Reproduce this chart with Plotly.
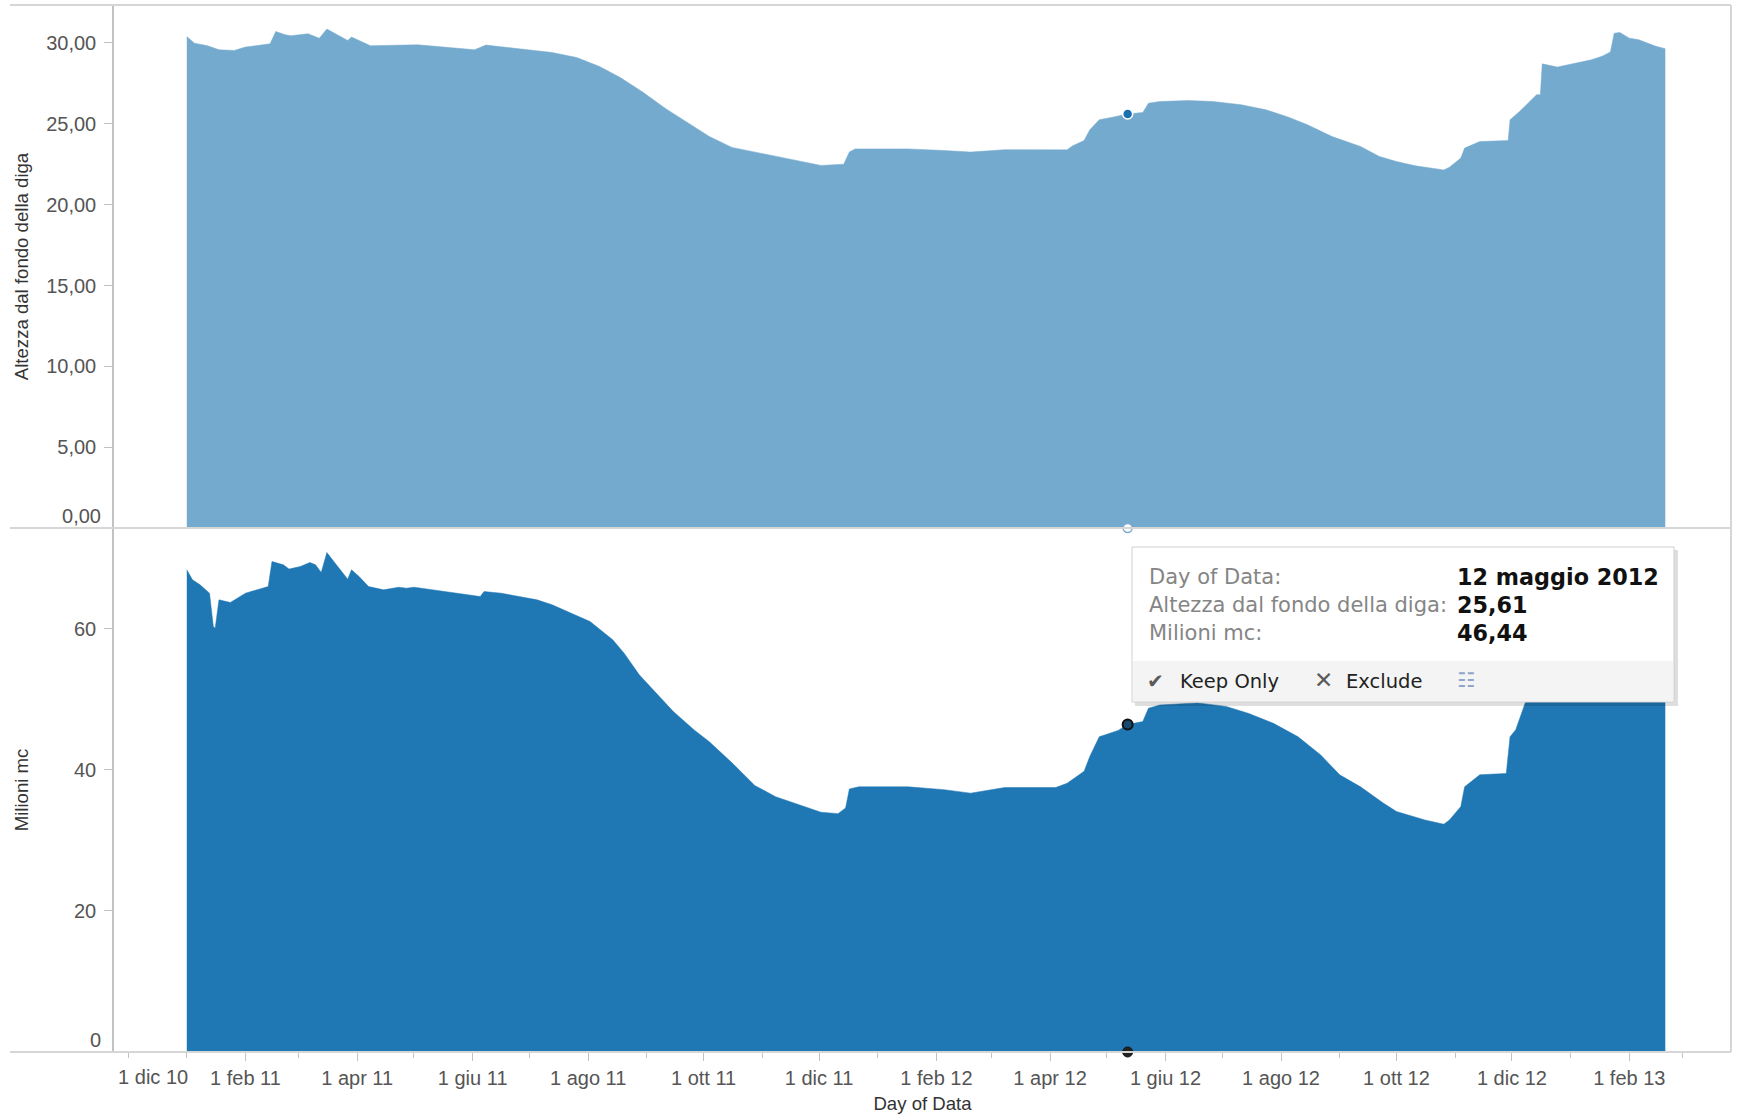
import plotly.graph_objects as go

# ---------------- data ----------------
top_dates = [
    "2011-01-01", "2011-01-05", "2011-01-12", "2011-01-18", "2011-01-26", "2011-02-01",
    "2011-02-14", "2011-02-17", "2011-02-22", "2011-02-25", "2011-03-06", "2011-03-12",
    "2011-03-16", "2011-03-27", "2011-03-29", "2011-04-08", "2011-05-03", "2011-05-21",
    "2011-06-02", "2011-06-08", "2011-06-29", "2011-07-13", "2011-07-26", "2011-08-07",
    "2011-08-18", "2011-08-30", "2011-09-11", "2011-09-23", "2011-10-04", "2011-10-16",
    "2011-10-28", "2011-11-08", "2011-11-20", "2011-12-02", "2011-12-14", "2011-12-17",
    "2011-12-20", "2012-01-17", "2012-02-05", "2012-02-19", "2012-03-08", "2012-04-10",
    "2012-04-13", "2012-04-19", "2012-04-22", "2012-04-27", "2012-05-04", "2012-05-12",
    "2012-05-20", "2012-05-23", "2012-05-29", "2012-06-13", "2012-06-26", "2012-07-11",
    "2012-07-24", "2012-08-05", "2012-08-15", "2012-08-28", "2012-09-12", "2012-09-22",
    "2012-10-01", "2012-10-11", "2012-10-26", "2012-10-29", "2012-11-04", "2012-11-06",
    "2012-11-14", "2012-11-29", "2012-11-30", "2012-12-05", "2012-12-14", "2012-12-16",
    "2012-12-17", "2012-12-25", "2013-01-12", "2013-01-18", "2013-01-22", "2013-01-24",
    "2013-01-27", "2013-02-01", "2013-02-06", "2013-02-11", "2013-02-15", "2013-02-20",
]
top_vals = [
    30.40, 29.99, 29.83, 29.58, 29.54, 29.75,
    29.95, 30.71, 30.51, 30.45, 30.57, 30.30,
    30.86, 30.16, 30.37, 29.83, 29.89, 29.68,
    29.58, 29.87, 29.62, 29.41, 29.10, 28.55,
    27.86, 26.95, 25.94, 25.04, 24.22, 23.54,
    23.25, 23.00, 22.71, 22.43, 22.50, 23.26,
    23.45, 23.45, 23.35, 23.25, 23.40, 23.39,
    23.64, 23.97, 24.63, 25.25, 25.41, 25.61,
    25.70, 26.28, 26.38, 26.44, 26.38, 26.18,
    25.87, 25.41, 24.94, 24.21, 23.60, 22.98,
    22.67, 22.40, 22.15, 22.32, 22.88, 23.50,
    23.90, 23.97, 25.25, 25.76, 26.80, 26.80,
    28.71, 28.51, 28.96, 29.20, 29.45, 30.60,
    30.65, 30.30, 30.20, 30.00, 29.80, 29.65,
]

bot_dates = [
    "2011-01-01", "2011-01-04", "2011-01-08", "2011-01-13", "2011-01-15", "2011-01-16",
    "2011-01-18", "2011-01-24", "2011-02-01", "2011-02-13", "2011-02-15", "2011-02-21",
    "2011-02-24", "2011-03-02", "2011-03-07", "2011-03-10", "2011-03-13", "2011-03-16",
    "2011-03-21", "2011-03-27", "2011-03-29", "2011-04-02", "2011-04-07", "2011-04-15",
    "2011-04-23", "2011-04-27", "2011-05-01", "2011-05-13", "2011-05-29", "2011-06-05",
    "2011-06-07", "2011-06-16", "2011-07-05", "2011-07-13", "2011-07-21", "2011-08-02",
    "2011-08-14", "2011-08-20", "2011-08-28", "2011-09-07", "2011-09-15", "2011-09-26",
    "2011-10-04", "2011-10-16", "2011-10-28", "2011-11-08", "2011-11-20", "2011-12-02",
    "2011-12-11", "2011-12-15", "2011-12-17", "2011-12-22", "2012-01-17", "2012-02-05",
    "2012-02-19", "2012-03-08", "2012-04-04", "2012-04-10", "2012-04-19", "2012-04-22",
    "2012-04-27", "2012-05-07", "2012-05-12", "2012-05-20", "2012-05-23", "2012-05-29",
    "2012-06-18", "2012-07-03", "2012-07-15", "2012-07-28", "2012-08-10", "2012-08-22",
    "2012-09-01", "2012-09-12", "2012-09-24", "2012-10-01", "2012-10-16", "2012-10-26",
    "2012-10-29", "2012-11-04", "2012-11-06", "2012-11-14", "2012-11-28", "2012-11-30",
    "2012-12-03", "2012-12-08", "2012-12-14", "2012-12-17", "2012-12-25", "2013-01-12",
    "2013-01-18", "2013-01-22", "2013-01-24", "2013-01-27", "2013-02-01", "2013-02-06",
    "2013-02-11", "2013-02-15", "2013-02-20",
]
bot_vals = [
    68.37, 66.95, 66.24, 65.06, 60.33, 60.10,
    64.11, 63.74, 65.06, 66.00, 69.55, 69.08,
    68.47, 68.84, 69.41, 69.08, 67.99, 70.82,
    69.08, 67.05, 68.37, 67.42, 66.00, 65.53,
    65.91, 65.77, 65.91, 65.43, 64.82, 64.58,
    65.29, 65.06, 64.11, 63.40, 62.46, 61.04,
    58.44, 56.55, 53.48, 50.64, 48.27, 45.67,
    44.00, 41.00, 37.80, 36.20, 35.10, 34.00,
    33.80, 34.60, 37.30, 37.60, 37.60, 37.20,
    36.70, 37.50, 37.50, 38.10, 39.80, 41.90,
    44.70, 45.60, 46.44, 46.85, 48.75, 49.20,
    49.50, 49.00, 48.00, 46.60, 44.70, 42.10,
    39.30, 37.60, 35.30, 34.10, 32.90, 32.30,
    32.90, 34.80, 37.60, 39.30, 39.50, 44.70,
    45.70, 49.50, 52.50, 61.00, 60.00, 62.00,
    63.20, 64.50, 70.00, 70.20, 68.50, 68.00,
    67.00, 66.00, 65.30,
]

tick_dates = [
    "2010-12-01", "2011-02-01", "2011-04-01", "2011-06-01", "2011-08-01", "2011-10-01",
    "2011-12-01", "2012-02-01", "2012-04-01", "2012-06-01", "2012-08-01", "2012-10-01",
    "2012-12-01", "2013-02-01",
]
tick_labels = [
    "1 dic 10", "1 feb 11", "1 apr 11", "1 giu 11", "1 ago 11", "1 ott 11",
    "1 dic 11", "1 feb 12", "1 apr 12", "1 giu 12", "1 ago 12", "1 ott 12",
    "1 dic 12", "1 feb 13",
]
month_ticks = [
    "2010-12-01", "2011-01-01", "2011-02-01", "2011-03-01", "2011-04-01", "2011-05-01",
    "2011-06-01", "2011-07-01", "2011-08-01", "2011-09-01", "2011-10-01", "2011-11-01",
    "2011-12-01", "2012-01-01", "2012-02-01", "2012-03-01", "2012-04-01", "2012-05-01",
    "2012-06-01", "2012-07-01", "2012-08-01", "2012-09-01", "2012-10-01", "2012-11-01",
    "2012-12-01", "2013-01-01", "2013-02-01", "2013-03-01",
]
top_ticks = [0, 5, 10, 15, 20, 25, 30]
bot_ticks = [0, 20, 40, 60]

hover_date = "2012-05-12"
hover_date_label = "12 maggio 2012"
hover_height = 25.61
hover_volume = 46.44

x_range = ["2010-11-23 13:00", "2013-03-26 17:00"]
top_range = [0, 32.35]
bot_range = [0, 74.3]

# ---------------- layout geometry ----------------
W, H = 1742, 1114
L, R, T, B = 114, 11, 5, 62
PW, PH = W - L - R, H - T - B
split = (H - B - 528) / PH


def px(xp):
    return (xp - L) / PW


def py(yp):
    return (H - B - yp) / PH


def it_num(v, dec):
    return f"{v:.{dec}f}".replace(".", ",")


FONT = "Liberation Sans, Arial, sans-serif"
TIPFONT = "DejaVu Sans, Verdana, sans-serif"
TOP_COLOR = "#75AACF"
BOT_COLOR = "#1F77B4"
FRAME = "#d6d6d6"
AXIS = "#c2c2c2"

# tick texts: the first label of each axis is drawn by an overlay axis
# (nudged into the pane, as in the original)
top_text = [it_num(v, 2) for v in top_ticks]
bot_text = [it_num(v, 0) for v in bot_ticks]
top_main_text = [""] + top_text[1:]
bot_main_text = [""] + bot_text[1:]
x_main_text = [""] + tick_labels[1:]

fig = go.Figure()

fig.add_trace(go.Scatter(
    x=top_dates, y=top_vals, mode="lines", fill="tozeroy",
    line=dict(color=TOP_COLOR, width=0.5), fillcolor=TOP_COLOR,
    xaxis="x", yaxis="y", showlegend=False, hoverinfo="skip"))
fig.add_trace(go.Scatter(
    x=bot_dates, y=bot_vals, mode="lines", fill="tozeroy",
    line=dict(color=BOT_COLOR, width=0.5), fillcolor=BOT_COLOR,
    xaxis="x2", yaxis="y2", showlegend=False, hoverinfo="skip"))

# hover highlight markers
fig.add_trace(go.Scatter(
    x=[hover_date], y=[hover_height], mode="markers",
    marker=dict(size=10, color="#1a6fae", line=dict(color="white", width=1.5)),
    xaxis="x", yaxis="y", showlegend=False, hoverinfo="skip", cliponaxis=False))
fig.add_trace(go.Scatter(
    x=[hover_date], y=[0], mode="markers",
    marker=dict(size=9, color="white", line=dict(color="#7fa9cc", width=1.5)),
    xaxis="x", yaxis="y", showlegend=False, hoverinfo="skip", cliponaxis=False))
fig.add_trace(go.Scatter(
    x=[hover_date], y=[hover_volume], mode="markers",
    marker=dict(size=10, color="#174a70", line=dict(color="#111111", width=2)),
    xaxis="x2", yaxis="y2", showlegend=False, hoverinfo="skip", cliponaxis=False))
fig.add_trace(go.Scatter(
    x=[hover_date], y=[0], mode="markers",
    marker=dict(size=10, color="#222222", line=dict(color="#111111", width=1)),
    xaxis="x2", yaxis="y2", showlegend=False, hoverinfo="skip", cliponaxis=False))

# invisible carrier traces so the overlay label axes get drawn
for xa, ya, xv, yv in [("x", "y3", hover_date, 0), ("x2", "y4", hover_date, 0),
                       ("x3", "y2", tick_dates[0], 0)]:
    fig.add_trace(go.Scatter(x=[xv], y=[yv], mode="markers", xaxis=xa, yaxis=ya,
                             marker=dict(opacity=0, size=1), showlegend=False,
                             hoverinfo="skip"))

tickfont = dict(family=FONT, size=20, color="#555555")
titlefont = dict(family=FONT, size=18.6, color="#333333")

common = dict(showgrid=False, zeroline=False, automargin=False)

fig.update_layout(
    template="none",
    width=W, height=H,
    margin=dict(l=L, r=R, t=T, b=B, pad=0),
    paper_bgcolor="white", plot_bgcolor="white",
    hovermode=False,
    showlegend=False,
    xaxis=dict(domain=[0, 1], anchor="y", range=x_range, type="date",
               showticklabels=False, ticks="", showline=False, matches="x2", **common),
    yaxis=dict(domain=[split, 1], anchor="x", range=top_range,
               tickmode="array", tickvals=top_ticks, ticktext=top_main_text,
               ticks="outside", ticklen=8,
               tickcolor=AXIS, tickwidth=1, tickfont=tickfont,
               ticklabelstandoff=4,
               showline=True, linecolor=AXIS, linewidth=1.5,
               title=dict(text="Altezza dal fondo della diga", font=titlefont, standoff=13),
               **common),
    xaxis2=dict(domain=[0, 1], anchor="y2", range=x_range, type="date",
                tickmode="array", tickvals=tick_dates, ticktext=x_main_text,
                ticks="outside", ticklen=8, tickcolor=AXIS, tickwidth=1,
                tickfont=tickfont, ticklabelstandoff=0,
                minor=dict(tickmode="array", tickvals=month_ticks, ticks="outside",
                           ticklen=5, tickcolor=AXIS, tickwidth=1),
                showline=False,
                title=dict(text="Day of Data", font=titlefont, standoff=8),
                **common),
    yaxis2=dict(domain=[0, split], anchor="x2", range=bot_range,
                tickmode="array", tickvals=bot_ticks, ticktext=bot_main_text,
                ticks="outside", ticklen=8,
                tickcolor=AXIS, tickwidth=1, tickfont=tickfont,
                ticklabelstandoff=4,
                showline=True, linecolor=AXIS, linewidth=1.5,
                title=dict(text="Milioni mc", font=titlefont, standoff=40),
                **common),
    # overlay axes that carry only the edge labels, nudged inside the pane
    yaxis3=dict(overlaying="y", anchor="x", side="left", range=top_range,
                tickmode="array", tickvals=top_ticks[:1], ticktext=top_text[:1],
                ticks="", ticklabelstandoff=12, ticklabelshift=-12, tickfont=tickfont,
                showline=False, **common),
    yaxis4=dict(overlaying="y2", anchor="x2", side="left", range=bot_range,
                tickmode="array", tickvals=bot_ticks[:1], ticktext=bot_text[:1],
                ticks="", ticklabelstandoff=12, ticklabelshift=-12, tickfont=tickfont,
                showline=False, **common),
    xaxis3=dict(overlaying="x2", anchor="y2", side="bottom", range=x_range, type="date",
                tickmode="array", tickvals=tick_dates[:1], ticktext=tick_labels[:1],
                ticks="", ticklabelstandoff=11, ticklabelshift=25, tickfont=tickfont,
                showline=False, **common),
)

# pane frame lines
x_left = px(10)
shapes = [
    dict(type="line", xref="paper", yref="paper", x0=x_left, x1=1, y0=1, y1=1,
         line=dict(color=FRAME, width=2)),
    dict(type="line", xref="paper", yref="paper", x0=x_left, x1=1, y0=split, y1=split,
         line=dict(color=FRAME, width=2)),
    dict(type="line", xref="paper", yref="paper", x0=x_left, x1=1, y0=0, y1=0,
         line=dict(color=FRAME, width=2)),
    dict(type="line", xref="paper", yref="paper", x0=1, x1=1, y0=0, y1=1,
         line=dict(color=FRAME, width=2)),
]

# tooltip box
bx0, bx1, by0, by1 = 1132, 1674, 547, 702
foot = 661
shapes += [
    dict(type="rect", xref="paper", yref="paper", layer="above",
         x0=px(bx0 + 3), x1=px(bx1 + 4), y0=py(by0 + 3), y1=py(by1 + 4),
         fillcolor="rgba(0,0,0,0.13)", line=dict(width=0)),
    dict(type="rect", xref="paper", yref="paper", layer="above",
         x0=px(bx0), x1=px(bx1), y0=py(by0), y1=py(by1),
         fillcolor="white", line=dict(color="#cfcfcf", width=1)),
    dict(type="rect", xref="paper", yref="paper", layer="above",
         x0=px(bx0 + 1), x1=px(bx1 - 1), y0=py(foot), y1=py(by1 - 1),
         fillcolor="#f4f4f4", line=dict(width=0)),
]
fig.update_layout(shapes=shapes)

tip_labels = ["Day of Data:", "Altezza dal fondo della diga:", "Milioni mc:"]
tip_values = [hover_date_label, it_num(hover_height, 2), it_num(hover_volume, 2)]
row_y = [577, 605, 633]
ann = []
for lab, val, yy in zip(tip_labels, tip_values, row_y):
    ann.append(dict(xref="paper", yref="paper", x=px(1147), y=py(yy), text=lab,
                    showarrow=False, xanchor="left", yanchor="middle",
                    font=dict(family=TIPFONT, size=21, color="#858585")))
    ann.append(dict(xref="paper", yref="paper", x=px(1455), y=py(yy), text=f"<b>{val}</b>",
                    showarrow=False, xanchor="left", yanchor="middle",
                    font=dict(family=TIPFONT, size=22.3, color="#111111")))
ann += [
    dict(xref="paper", yref="paper", x=px(1145), y=py(681), text="✔",
         showarrow=False, xanchor="left", yanchor="middle",
         font=dict(family=TIPFONT, size=20, color="#5a5a5a")),
    dict(xref="paper", yref="paper", x=px(1178), y=py(681), text="Keep Only",
         showarrow=False, xanchor="left", yanchor="middle",
         font=dict(family=TIPFONT, size=19.5, color="#222222")),
    dict(xref="paper", yref="paper", x=px(1312), y=py(680), text="✕",
         showarrow=False, xanchor="left", yanchor="middle",
         font=dict(family=TIPFONT, size=23, color="#5a5a5a")),
    dict(xref="paper", yref="paper", x=px(1344), y=py(681), text="Exclude",
         showarrow=False, xanchor="left", yanchor="middle",
         font=dict(family=TIPFONT, size=19.5, color="#222222")),
    dict(xref="paper", yref="paper", x=px(1455), y=py(680), text="☷",
         showarrow=False, xanchor="left", yanchor="middle",
         font=dict(family=TIPFONT, size=20, color="#8fa5cc")),
]
fig.update_layout(annotations=ann)

fig.write_html("out.html", config={"displayModeBar": False},
               post_script="document.body.style.margin='0';")
